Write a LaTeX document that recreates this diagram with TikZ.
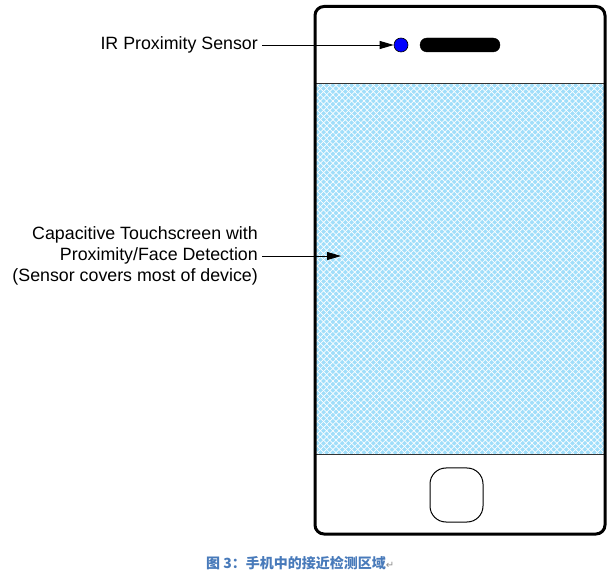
\documentclass[tikz,border=0pt]{standalone}
\usepackage{fontspec}
\setmainfont{Liberation Sans}
\newfontfamily\cjk{Noto Sans CJK SC}
\newfontfamily\pmark{DejaVu Sans}
\usepackage{tikz}
\usetikzlibrary{arrows.meta,patterns.meta}
\definecolor{screenblue}{RGB}{160,222,250}
\definecolor{capblue}{RGB}{72,122,186}
\tikzset{
	label/.style={font=\fontsize{17.8}{21}\selectfont, align=right, anchor=east, inner sep=0pt},
	pointer/.style={line width=0.9pt, -{Triangle[length=14pt,width=8pt]}},
	frame/.style={line width=3pt, rounded corners=9pt},
}

\begin{document}
\begin{tikzpicture}[x=1pt, y=-1pt]
			%%%%% START %%%%%
			\useasboundingbox (0, 0) rectangle (611, 577);
			
			% screen with its hatch
			\fill[screenblue] (315, 84) rectangle (605, 455);
			\fill[pattern={Lines[angle=45, distance=4.4pt, line width=0.7pt]}, pattern color=white] (315, 84) rectangle (605, 455);
			\fill[pattern={Lines[angle=-45, distance=4.4pt, line width=0.7pt]}, pattern color=white] (315, 84) rectangle (605, 455);
			\draw[line width=1pt, color=black!80] (315, 84) -- (605, 84);
			\draw[line width=1pt, color=black!80] (315, 455) -- (605, 455);
			
			% case
			\draw[frame] (315, 6.5) rectangle (605, 534);
			
			% top part
			\node[circle, draw, line width=0.6pt, fill=blue, minimum size=14pt, inner sep=0pt] (dot) at (401, 45) {};
			\draw[fill=black, rounded corners=7pt] (420, 38) rectangle (500, 52);
			
			% home button
			\draw[line width=1pt, rounded corners=16pt] (430, 468) rectangle (483, 522);
			
			% labels
			\node[label] (irlab) at (258, 45) {IR Proximity Sensor};
			\node[label] (touchlab) at (258, 256) {Capacitive Touchscreen with\\Proximity/Face Detection\\(Sensor covers most of device)};
			\coordinate (touch) at (341, 256);
			
			\draw[pointer] ([xshift=4pt]irlab.east) -- (dot.west);
			\draw[pointer] ([xshift=4pt]touchlab.east |- touch) -- (touch);
			
			% caption
			\node[anchor=west, inner sep=0pt, text=capblue, font=\cjk\bfseries\fontsize{14}{16}\selectfont] (caption) at (206, 563) {图 3：手机中的接近检测区域{\pmark\mdseries\color{black!45}\fontsize{10}{12}\selectfont ↵}};
			
			%%%%% END %%%%%
\end{tikzpicture}
\end{document}
